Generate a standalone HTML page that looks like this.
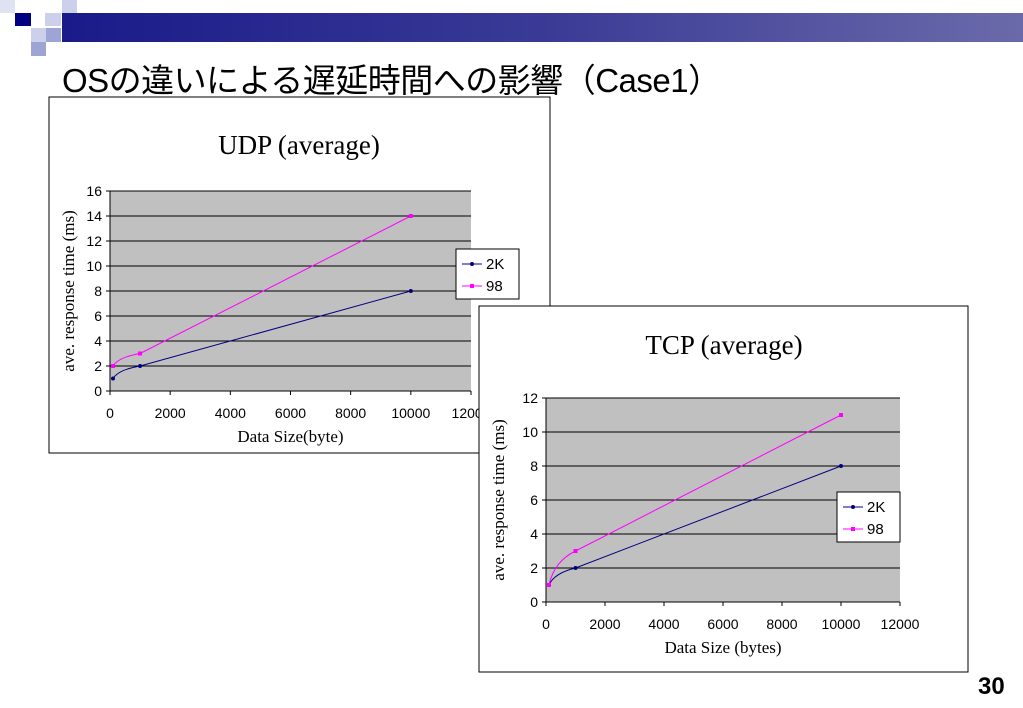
<!DOCTYPE html>
<html><head><meta charset="utf-8"><style>
body{margin:0;width:1023px;height:708px;background:#fff;overflow:hidden;position:relative;font-family:"Liberation Sans","Noto Sans CJK JP",sans-serif}
.sq{position:absolute}
</style></head><body>
<div class="sq" style="left:0;top:0;width:15px;height:13px;background:#dfe2f2"></div>
<div class="sq" style="left:15px;top:13px;width:16px;height:13px;background:#000080"></div>
<div class="sq" style="left:45px;top:13px;width:16px;height:13px;background:#ccd0ea"></div>
<div class="sq" style="left:62px;top:0;width:15px;height:13px;background:#ccd0ea"></div>
<div class="sq" style="left:31px;top:28px;width:15px;height:14px;background:#ccd0ea"></div>
<div class="sq" style="left:46px;top:28px;width:15px;height:14px;background:#9ea4d4"></div>
<div class="sq" style="left:31px;top:42px;width:15px;height:14px;background:#9ea4d4"></div>
<div class="sq" style="left:62px;top:13px;width:961px;height:29px;background:linear-gradient(90deg,#1a1a8a,#3a3a96 50%,#6a6aaa)"></div>
<div style="position:absolute;left:62px;top:54px;font-size:33px;color:#000;white-space:nowrap;letter-spacing:-0.5px">OSの違いによる遅延時間への影響（Case1）</div>
<div style="position:absolute;left:978px;top:673px;font-size:24px;font-weight:bold">30</div>
<svg id="svg" width="1023" height="708" style="position:absolute;left:0;top:0"></svg>
<script>
const xVals=[100,1000,10000];
const udp2K=[1,2,8];
const udp98=[2,3,14];
const tcp2K=[1,2,8];
const tcp98=[1,3,11];
const udpYTicks=[0,2,4,6,8,10,12,14,16];
const tcpYTicks=[0,2,4,6,8,10,12];
const xTicks=[0,2000,4000,6000,8000,10000,12000];
const NS="http://www.w3.org/2000/svg";
const svg=document.getElementById('svg');
function mk(t,a,p){const e=document.createElementNS(NS,t);for(const k in a)e.setAttribute(k,a[k]);(p||svg).appendChild(e);return e;}
function path(pts){let d=`M${pts[0][0]},${pts[0][1]}`;
  for(let i=1;i<pts.length;i++){
    if(i==1){const cx=pts[0][0]+(pts[1][0]-pts[0][0])*0.2,cy=pts[0][1]+(pts[1][1]-pts[0][1])*0.7;d+=` Q${cx},${cy} ${pts[1][0]},${pts[1][1]}`;}
    else d+=` L${pts[i][0]},${pts[i][1]}`;}
  return d;}
function chart(c){
  const g=mk('g',{});
  
  
  const fr=mk('rect',{x:c.fx,y:c.fy,width:c.fw,height:c.fh,fill:'#fff',stroke:'#000','stroke-width':1},g);
  
  
  const ymax=c.yt[c.yt.length-1];
  const X=v=>c.x0+(v/12000)*(c.x1-c.x0);
  const Y=v=>c.y0-(v/ymax)*(c.y0-c.y1);
  const pa=mk('rect',{x:c.x0,y:c.y1,width:c.x1-c.x0,height:c.y0-c.y1,fill:'#c0c0c0'},g);
  
  
  c.yt.forEach(v=>{
    const l=mk('line',{x1:c.x0-4,x2:c.x1,y1:Y(v),y2:Y(v),stroke:'#000','stroke-width':1},g);
    
    
    const t=mk('text',{x:c.x0-8,y:Y(v)+5,'text-anchor':'end','font-size':14,'font-family':'Liberation Sans'},g);
    
    
    t.textContent=v;
  });
  mk('line',{x1:c.x0,x2:c.x0,y1:c.y1,y2:c.y0,stroke:'#000'},g);
  xTicks.forEach(v=>{
    mk('line',{x1:X(v),x2:X(v),y1:c.y0,y2:c.y0+4,stroke:'#000'},g);
    const t=mk('text',{x:X(v),y:c.y0+27,'text-anchor':'middle','font-size':14,'font-family':'Liberation Sans'},g);
    
    
    t.textContent=v;
  });
  const ti=mk('text',{x:c.tx,y:c.ty,'text-anchor':'middle','font-size':27,'font-family':'Liberation Serif'},g);
  
  
  ti.textContent=c.title;
  const xl=mk('text',{x:(c.x0+c.x1)/2,y:c.y0+51,'text-anchor':'middle','font-size':17,'font-family':'Liberation Serif'},g);
  
  
  xl.textContent=c.xlabel;
  const yl=mk('text',{x:0,y:0,'text-anchor':'middle','font-size':17,'font-family':'Liberation Serif',transform:`translate(${c.ylx},${(c.y0+c.y1)/2}) rotate(-90)`},g);
  
  
  yl.textContent='ave. response time (ms)';
  [[c.s1,'#000080','2K'],[c.s2,'#ff00ff','98']].forEach(([s,col,nm])=>{
    const pts=xVals.map((x,i)=>[X(x),Y(s[i])]);
    const p=mk('path',{d:path(pts),fill:'none',stroke:col,'stroke-width':1},g);
    
    
    pts.forEach(q=>{
      const m=nm=='2K'?mk('circle',{cx:q[0],cy:q[1],r:2,fill:col},g):mk('rect',{x:q[0]-2,y:q[1]-2,width:4,height:4,fill:col},g);
      
      
    });
  });
  const lg=mk('g',{},g);
  
  
  mk('rect',{x:c.lx,y:c.ly,width:63,height:50,fill:'#fff',stroke:'#000'},lg);
  [['2K','#000080',0],['98','#ff00ff',1]].forEach(([nm,col,i])=>{
    const yy=c.ly+15+i*22;
    mk('line',{x1:c.lx+6,x2:c.lx+26,y1:yy,y2:yy,stroke:col},lg);
    if(i==0)mk('circle',{cx:c.lx+16,cy:yy,r:2,fill:col},lg);else mk('rect',{x:c.lx+14,y:yy-2,width:4,height:4,fill:col},lg);
    const t=mk('text',{x:c.lx+30,y:yy+5,'font-size':15,'font-family':'Liberation Sans'},lg);
    
    
    t.textContent=nm;
  });
}
chart({name:'udp-chart',fx:49,fy:97,fw:501,fh:356,x0:110,x1:471,y0:391,y1:191,yt:udpYTicks,s1:udp2K,s2:udp98,title:'UDP (average)',tx:299,ty:154,xlabel:'Data Size(byte)',ylx:74,lx:456,ly:249});
chart({name:'tcp-chart',fx:479,fy:306,fw:489,fh:366,x0:546,x1:900,y0:602,y1:398,yt:tcpYTicks,s1:tcp2K,s2:tcp98,title:'TCP (average)',tx:724,ty:354,xlabel:'Data Size (bytes)',ylx:504,lx:837,ly:492});
</script>
</body></html>
